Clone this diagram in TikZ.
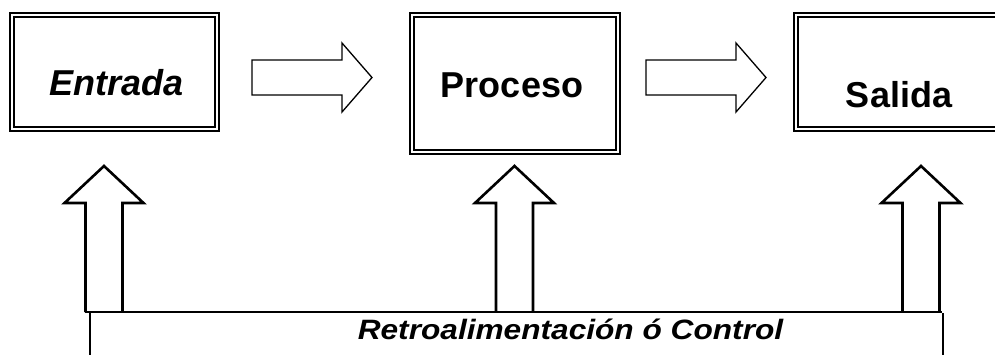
\documentclass[tikz,border=0pt]{standalone}
\usepackage{fontspec}
\usepackage{graphicx}
\setmainfont{Liberation Sans}
\begin{document}
\begin{tikzpicture}[x=1pt,y=-1pt,
  dbox/.style={draw, double, line width=1.8pt, double distance=2.4pt, inner sep=0pt},
  lbl/.style={font=\fontsize{36}{40}\selectfont\bfseries, anchor=base, inner sep=0pt},
  lblit/.style={font=\fontsize{36}{40}\selectfont\bfseries\itshape, anchor=base, inner sep=0pt},
  blk/.style={draw, line width=1.3pt, line join=miter, fill=white},
  upblk/.style={draw, line width=2.6pt, line join=miter},
]
\useasboundingbox (0,0) rectangle (995,354);

% boxes
\node[dbox, minimum width=205pt, minimum height=114pt] (ebox) at (114.5,72) {};
\node[dbox, minimum width=206pt, minimum height=137pt] (pbox) at (515,83.5) {};
\node[dbox, minimum width=214pt, minimum height=114pt] (sbox) at (903,72) {};

% labels
\node[lblit] (etxt) at (116.5,95) {Entrada};
\node[lbl] (ptxt) at (512,97.3) {Proceso};
\node[lbl] (stxt) at (899,107.7) {Salida};

% horizontal block arrows
\coordinate (h1) at (252,60);
\coordinate (h2) at (646,60);
\foreach \h in {h1,h2}{
  \draw[blk] (\h) -- ++(90,0) -- ++(0,-17) -- ++(30,34.5) -- ++(-30,34.5)
     -- ++(0,-17) -- ++(-90,0) -- cycle;
}

% vertical block arrows (feedback)
\coordinate (u1) at (104,312);
\coordinate (u2) at (514.5,312);
\coordinate (u3) at (921,312);
\foreach \u in {u1,u2,u3}{
  \draw[upblk] ([xshift=-18.5pt]\u) -- ++(0,-109) -- ++(-21,0) -- ++(39.5,-37)
     -- ++(39.5,37) -- ++(-21,0) -- ++(0,109);
}

% feedback bracket
\coordinate (fL) at (85,312);
\coordinate (fR) at (941.5,312);
\draw[upblk] (fL) -- (fR);
\coordinate (vL) at (90,312);
\coordinate (vLe) at (90,360);
\coordinate (vR) at (943,313);
\coordinate (vRe) at (943,360);
\draw[upblk] (vL) -- (vLe);
\draw[upblk] (vR) -- (vRe);

\node[font=\fontsize{28}{32}\selectfont\bfseries\itshape, anchor=base, inner sep=0pt] (ftxt) at (570.5,339)
  {\scalebox{1.13}[1]{Retroalimentación ó Control}};
\end{tikzpicture}
\end{document}
